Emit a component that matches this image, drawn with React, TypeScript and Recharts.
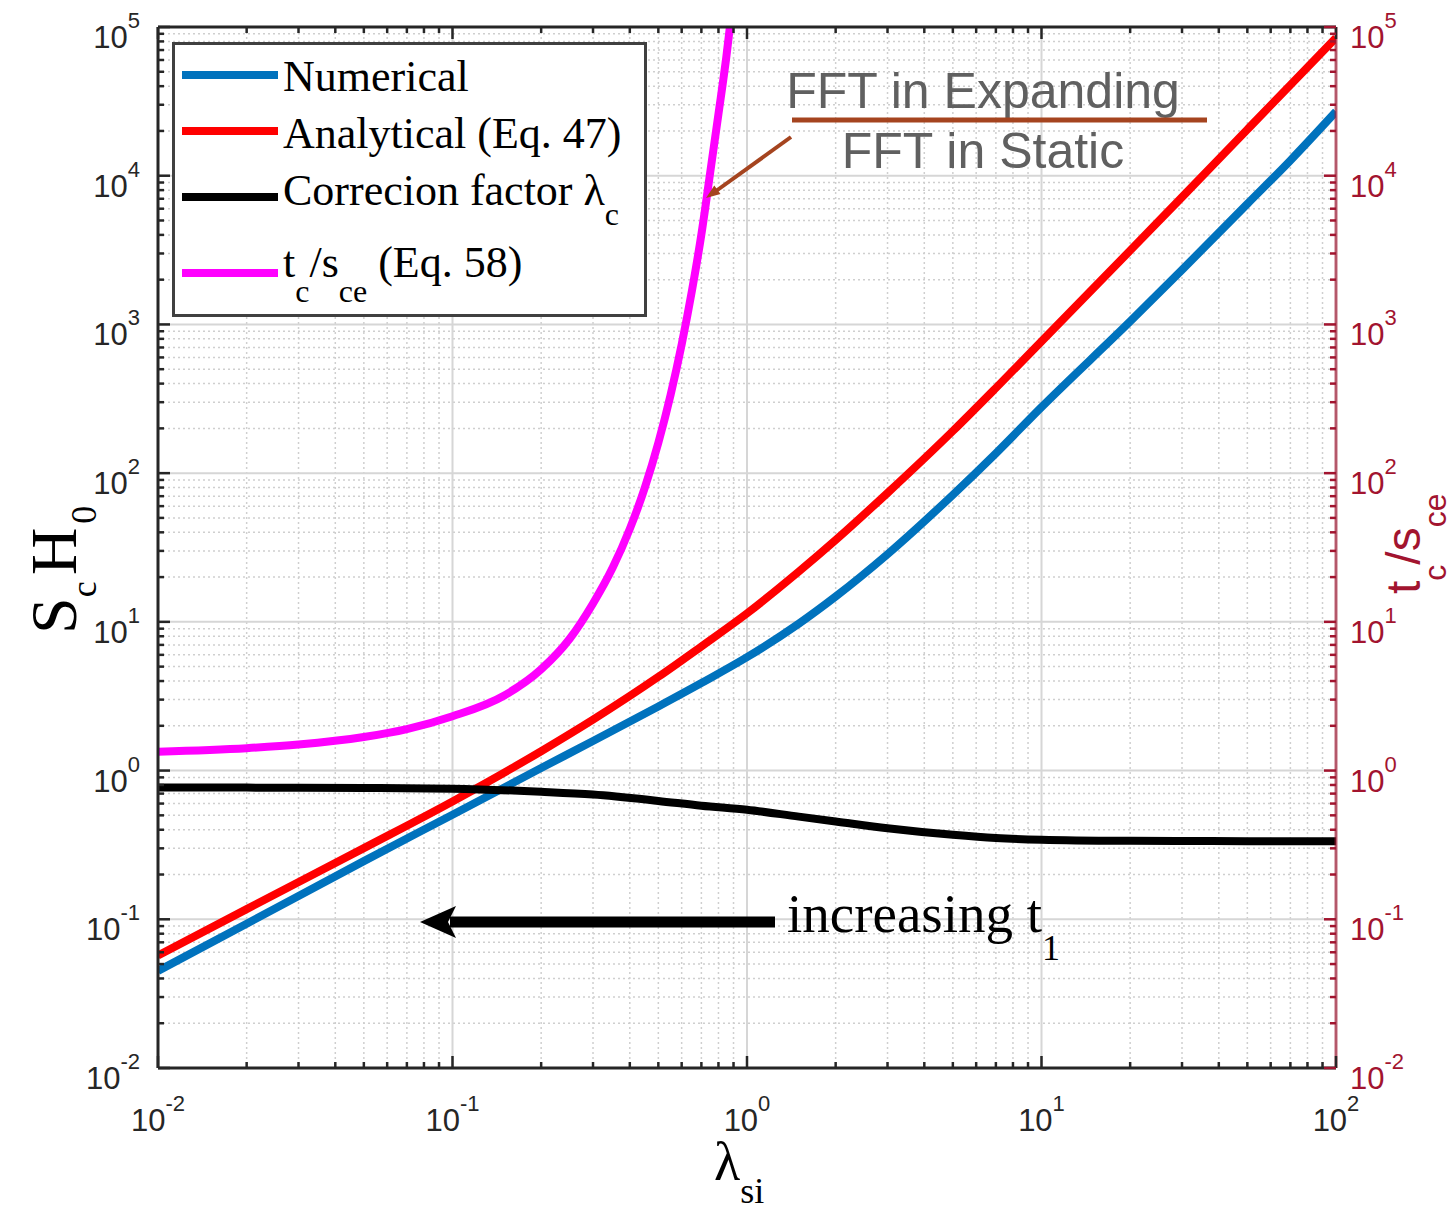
import React from 'react';
import { LineChart, Line, XAxis, YAxis, CartesianGrid, Legend } from 'recharts';

// lambda_si samples shared by the three S_c H_0 curves
const lambdaSi = [0.01, 0.02, 0.05, 0.1, 0.2, 0.3, 0.5, 0.7, 1, 1.5, 2, 3, 5, 7, 10, 20, 30, 50, 70, 100];
const numerical = [0.045, 0.0934, 0.246, 0.505, 1.04, 1.58, 2.7, 3.88, 5.79, 9.73, 14.8, 28.5, 71.5, 136, 278, 1047, 2327, 6464, 12670, 27000];
const analytical = [0.057, 0.117, 0.301, 0.62, 1.35, 2.2, 4.27, 6.84, 11.4, 21.8, 35.5, 73.6, 192, 374, 769, 3140, 7180, 20460, 40780, 84700];
const correction = [0.77, 0.768, 0.764, 0.755, 0.72, 0.69, 0.625, 0.58, 0.545, 0.49, 0.455, 0.41, 0.37, 0.352, 0.343, 0.337, 0.336, 0.335, 0.335, 0.335];

// t_c / s_ce (Eq. 58), right axis
const lambdaTc = [0.01, 0.02, 0.03, 0.05, 0.07, 0.1, 0.15, 0.2, 0.25, 0.3, 0.35, 0.4, 0.45, 0.5, 0.55, 0.6, 0.65, 0.7, 0.75, 0.8, 0.85, 0.9];
const tcOverSce = [1.34, 1.415, 1.495, 1.68, 1.9, 2.32, 3.2, 4.8, 7.7, 13.3, 23.2, 42.2, 80, 160, 335, 733, 1680, 4030, 10500, 26000, 62000, 160000];

const majorX = [0.01, 0.1, 1, 10, 100];
const majorY = [0.01, 0.1, 1, 10, 100, 1000, 10000, 100000];
const minorSteps = [2, 3, 4, 5, 6, 7, 8, 9];

const minorsOf = (majors: number[]) =>
  majors.slice(0, -1).flatMap((m) => minorSteps.map((k) => +(m * k).toPrecision(6)));
const minorX = minorsOf(majorX);
const minorY = minorsOf(majorY);
const allX = [...majorX, ...minorX].sort((a, b) => a - b);
const allY = [...majorY, ...minorY].sort((a, b) => a - b);

const toRows = (xs: number[], ys: number[]) => xs.map((x, i) => ({ x, y: ys[i] }));
const numData = toRows(lambdaSi, numerical);
const anaData = toRows(lambdaSi, analytical);
const corrData = toRows(lambdaSi, correction);
const tcData = toRows(lambdaTc, tcOverSce);

const SANS = 'Liberation Sans, Arial, sans-serif';
const SERIF = 'Liberation Serif, Times New Roman, serif';
const AXIS = '#262626';
const RED_AXIS = '#A2142F';

const isMajor = (v: number) => {
  const l = Math.log10(v);
  return Math.abs(l - Math.round(l)) < 1e-6;
};

const Pow = ({ v, x, y, anchor, color }: any) => (
  <text x={x} y={y} textAnchor={anchor} fontFamily={SANS} fontSize={31} fill={color}>
    10
    <tspan dy={-20} fontSize={22}>
      {Math.round(Math.log10(v))}
    </tspan>
  </text>
);

const makeTick = (side: 'bottom' | 'top' | 'left' | 'right', color: string) => (props: any) => {
  const { x, y, payload } = props;
  const v = payload.value;
  const major = isMajor(v);
  const len = major ? 12 : 6;
  let line = null;
  let label = null;
  if (side === 'bottom') {
    line = <line x1={x} y1={y} x2={x} y2={y - len} stroke={color} strokeWidth={2.5} />;
    if (major) label = <Pow v={v} x={x} y={y + 63} anchor="middle" color={color} />;
  } else if (side === 'top') {
    line = <line x1={x} y1={y} x2={x} y2={y + len} stroke={color} strokeWidth={2.5} />;
  } else if (side === 'left') {
    line = <line x1={x} y1={y} x2={x + len} y2={y} stroke={color} strokeWidth={2.5} />;
    if (major) label = <Pow v={v} x={x - 18} y={y + 21} anchor="end" color={color} />;
  } else {
    line = <line x1={x} y1={y} x2={x - len} y2={y} stroke={color} strokeWidth={2.5} />;
    if (major) label = <Pow v={v} x={x + 14} y={y + 21} anchor="start" color={color} />;
  }
  return (
    <g>
      {line}
      {label}
    </g>
  );
};

const legendRows = [
  { color: '#0072BD', y: 33 },
  { color: '#FF0000', y: 89 },
  { color: '#000000', y: 155 },
  { color: '#FF00FF', y: 231 },
];

const LegendBox = () => (
  <svg width={476} height={276} style={{ display: 'block' }}>
    <rect x={1.5} y={1.5} width={472} height={272} fill="#fff" stroke="#404040" strokeWidth={3} />
    {legendRows.map((r) => (
      <line key={r.color} x1={10} x2={106} y1={r.y} y2={r.y} stroke={r.color} strokeWidth={8} />
    ))}
    <g fontFamily={SERIF} fontSize={44} fill="#000">
      <text x={111} y={49}>Numerical</text>
      <text x={111} y={106}>Analytical (Eq. 47)</text>
      <text x={111} y={163}>
        Correcion factor λ<tspan dy={20} fontSize={32}>c</tspan>
      </text>
      <text x={111} y={235}>
        t<tspan dy={25} fontSize={32}>c</tspan>
        <tspan dy={-25}>/s</tspan>
        <tspan dy={25} fontSize={32}>ce</tspan>
        <tspan dy={-25}> (Eq. 58)</tspan>
      </text>
    </g>
  </svg>
);

const Overlay = () => (
  <svg
    width={1449}
    height={1205}
    style={{ position: 'absolute', left: 0, top: 0, pointerEvents: 'none' }}
  >
    {/* left axis label */}
    <text transform="translate(76,634) rotate(-90)" fontFamily={SERIF} fontSize={66} fill="#000">
      S<tspan dy={20} fontSize={36}>c</tspan>
      <tspan dy={-20} dx={6}>H</tspan>
      <tspan dy={20} dx={4} fontSize={36}>0</tspan>
    </text>
    {/* right axis label */}
    <text transform="translate(1420,594) rotate(-90)" fontFamily={SANS} fontSize={48} fill={RED_AXIS}>
      t<tspan dy={26} fontSize={32}>c</tspan>
      <tspan dy={-26}>/s</tspan>
      <tspan dy={26} fontSize={32}>ce</tspan>
    </text>
    {/* x axis label */}
    <text x={714} y={1180} fontFamily={SERIF} fontSize={54} fill="#000">
      λ<tspan dy={23} fontSize={36}>si</tspan>
    </text>

    {/* FFT ratio annotation */}
    <text x={983} y={108} textAnchor="middle" fontFamily={SANS} fontSize={50} fill="#606060">
      FFT in Expanding
    </text>
    <text x={983} y={168} textAnchor="middle" fontFamily={SANS} fontSize={50} fill="#606060">
      FFT in Static
    </text>
    <line x1={792} y1={120} x2={1207} y2={120} stroke="#A5441F" strokeWidth={5} />
    <line x1={791} y1={137} x2={716} y2={191} stroke="#A5441F" strokeWidth={4} />
    <polygon points="706,198 720.5,194 714.3,185.5" fill="#A5441F" />

    {/* increasing t1 arrow */}
    <line x1={775} y1={922} x2={450} y2={922} stroke="#000" strokeWidth={11} />
    <polygon points="420,922 456,906 448,922 456,938" fill="#000" />
    <text x={787} y={932} fontFamily={SERIF} fontSize={55} fill="#000">
      increasing t<tspan dy={28} fontSize={36}>1</tspan>
    </text>
  </svg>
);

export default function App() {
  return (
    <div style={{ position: 'absolute', left: 0, top: 0, width: 1449, height: 1205, background: '#fff' }}>
      <LineChart width={1449} height={1205} margin={{ top: 17, right: 53, bottom: 77, left: 98 }}>
        <CartesianGrid
          xAxisId="b"
          yAxisId="l"
          verticalValues={minorX}
          horizontalValues={minorY}
          stroke="#cfcfcf"
          strokeDasharray="2 3"
          strokeWidth={1.5}
        />
        <CartesianGrid
          xAxisId="b"
          yAxisId="l"
          verticalValues={majorX}
          horizontalValues={majorY}
          stroke="#d6d6d6"
          strokeWidth={2}
        />
        <XAxis
          xAxisId="b"
          dataKey="x"
          type="number"
          scale="log"
          domain={[0.01, 100]}
          allowDataOverflow
          ticks={allX}
          interval={0}
          height={60}
          tickSize={0}
          tickMargin={0}
          tickLine={false}
          axisLine={{ stroke: AXIS, strokeWidth: 3 }}
          tick={makeTick('bottom', AXIS)}
        />
        <XAxis
          xAxisId="t"
          orientation="top"
          dataKey="x"
          type="number"
          scale="log"
          domain={[0.01, 100]}
          allowDataOverflow
          ticks={allX}
          interval={0}
          height={10}
          tickSize={0}
          tickMargin={0}
          tickLine={false}
          axisLine={{ stroke: AXIS, strokeWidth: 3 }}
          tick={makeTick('top', AXIS)}
        />
        <YAxis
          yAxisId="l"
          type="number"
          scale="log"
          domain={[0.01, 100000]}
          allowDataOverflow
          ticks={allY}
          interval={0}
          width={60}
          tickSize={0}
          tickMargin={0}
          tickLine={false}
          axisLine={{ stroke: AXIS, strokeWidth: 3 }}
          tick={makeTick('left', AXIS)}
        />
        <YAxis
          yAxisId="r"
          orientation="right"
          type="number"
          scale="log"
          domain={[0.01, 100000]}
          allowDataOverflow
          ticks={allY}
          interval={0}
          width={60}
          tickSize={0}
          tickMargin={0}
          tickLine={false}
          axisLine={{ stroke: RED_AXIS, strokeOpacity: 0.65, strokeWidth: 3 }}
          tick={makeTick('right', RED_AXIS)}
        />
        <Line xAxisId="b" yAxisId="l" data={numData} dataKey="y" type="monotone" stroke="#0072BD" strokeWidth={8} dot={false} isAnimationActive={false} />
        <Line xAxisId="b" yAxisId="l" data={anaData} dataKey="y" type="monotone" stroke="#FF0000" strokeWidth={8} dot={false} isAnimationActive={false} />
        <Line xAxisId="b" yAxisId="l" data={corrData} dataKey="y" type="monotone" stroke="#000000" strokeWidth={8} dot={false} isAnimationActive={false} />
        <Line xAxisId="b" yAxisId="r" data={tcData} dataKey="y" type="monotone" stroke="#FF00FF" strokeWidth={8} dot={false} isAnimationActive={false} />
        <Legend
          layout="horizontal"
          verticalAlign="middle"
          align="center"
          wrapperStyle={{ position: 'absolute', left: 172, top: 42, width: 476, height: 276 }}
          content={() => <LegendBox />}
        />
      </LineChart>
      <Overlay />
    </div>
  );
}
